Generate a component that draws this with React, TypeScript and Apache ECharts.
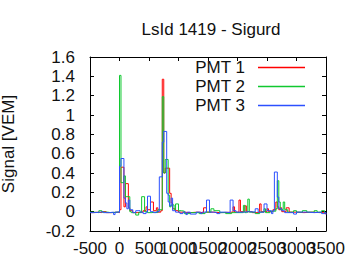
import React, { useEffect, useRef } from "react";
import * as echarts from "echarts";

const titleText = "LsId 1419 - Sigurd";
const yAxisName = "Signal [VEM]";
const seriesNames = ["PMT 1", "PMT 2", "PMT 3"];
const seriesColors = ["#ff0000", "#10c830", "#2c50ff"];
const xTickLabels = [-500, 0, 500, 1000, 1500, 2000, 2500, 3000, 3500];

// [time (ns), signal (VEM)] step breakpoints
const pmt1: [number, number][] = [
  [-500, -0.01], [-450, -0.005], [-350, -0.01], [-300, 0], [-225, -0.01], [-125, -0.005], [-25, -0.01],
  [0, 0.02], [25, 0.46], [75, 0.05], [100, 0.29], [150, 0.04], [175, 0.01], [225, -0.01], [300, -0.005],
  [400, 0.01], [450, 0.05], [475, 0.02], [525, 0.1], [575, 0.01], [625, 0.04], [650, -0.005], [700, 0.01],
  [725, 1.37], [750, 0.4], [775, 0.45], [850, 0.19], [875, 0.09], [900, 0.03], [950, 0.01], [1000, -0.005],
  [1100, -0.01], [1200, -0.005], [1325, -0.01], [1425, 0.04], [1475, -0.005], [1600, -0.01], [1700, -0.005],
  [1925, 0.05], [1950, -0.005], [2025, 0.12], [2050, 0], [2125, 0.06], [2150, 0], [2250, -0.01],
  [2375, 0.08], [2400, 0], [2500, 0.03], [2525, 0], [2600, 0.02], [2650, 0.1], [2675, 0.05], [2700, 0.02],
  [2725, 0.04], [2750, 0.0], [2825, 0.04], [2875, -0.005], [3000, -0.01], [3125, -0.005], [3275, -0.01],
  [3400, -0.005], [3475, -0.02], [3500, -0.02],
];

const pmt2: [number, number][] = [
  [-500, -0.005], [-425, -0.01], [-350, 0.01], [-300, -0.005], [-200, -0.01], [-150, -0.005], [-25, 0],
  [0, 1.41], [25, 0.3], [75, 0.37], [100, 0.155], [175, 0.0], [200, -0.01], [250, -0.005], [275, -0.035],
  [325, -0.01], [375, 0.155], [425, 0.0], [475, -0.01], [550, -0.005], [600, -0.01], [650, 0.02],
  [725, 1.19], [750, 0.4], [775, 0.54], [825, 0.17], [850, 0.05], [875, 0.07], [925, 0.02], [950, 0.08],
  [1000, 0.01], [1050, 0.005], [1100, -0.02], [1200, -0.01], [1350, -0.02], [1450, -0.005], [1550, 0.03],
  [1600, 0.01], [1700, -0.01], [1800, -0.02], [1900, -0.01], [2100, 0.065], [2125, -0.01], [2150, -0.005],
  [2175, 0.13], [2200, -0.005], [2300, -0.02], [2375, -0.005], [2450, 0.03], [2475, -0.01], [2550, 0.005],
  [2650, 0.03], [2675, 0.32], [2700, 0.1], [2725, 0.02], [2775, 0.1], [2800, 0.02], [2850, -0.005],
  [2950, 0.01], [3000, -0.005], [3100, 0.01], [3175, -0.005], [3300, 0.01], [3350, -0.005], [3425, 0.01],
  [3475, -0.01], [3500, -0.01],
];

const pmt3: [number, number][] = [
  [-500, -0.01], [-425, -0.005], [-325, 0], [-275, -0.01], [-175, -0.005], [-100, -0.03], [-75, -0.005],
  [0, 0.47], [25, 0.55], [75, 0.14], [100, 0.09], [125, 0.03], [150, 0.12], [175, 0.02], [225, -0.01],
  [275, 0.01], [350, -0.005], [400, -0.02], [450, -0.005], [475, 0.16], [525, 0.0], [575, -0.01],
  [625, 0.0], [675, 0.36], [725, 0.72], [750, 0.83], [800, 0.19], [825, 0.1], [850, 0.06], [875, 0.14],
  [900, 0.01], [950, -0.005], [1025, -0.02], [1075, -0.005], [1125, -0.03], [1150, -0.005], [1200, -0.025],
  [1300, -0.005], [1375, -0.02], [1400, -0.005], [1475, 0.12], [1525, -0.005], [1600, -0.01], [1650, -0.02],
  [1700, -0.005], [1800, -0.01], [1875, 0.12], [1925, 0.01], [1975, -0.005], [2100, 0.0], [2200, -0.005],
  [2300, 0.03], [2350, -0.005], [2450, 0.08], [2500, 0.01], [2575, -0.02], [2600, 0.01], [2625, 0.41],
  [2675, 0.15], [2700, 0.03], [2750, 0.01], [2800, -0.01], [2900, -0.01], [2950, -0.025], [3000, -0.005],
  [3200, -0.01], [3300, -0.005], [3425, -0.02], [3475, -0.01], [3500, -0.03],
];

const xMin = -500, xMax = 3500, xStep = 500;
const yMin = -0.2, yMax = 1.6, yStep = 0.2;

const FONT = "Liberation Sans";
const FS = 17;

export default function App() {
  const ref = useRef<HTMLDivElement>(null);
  useEffect(() => {
    if (!ref.current) return;
    const chart = echarts.init(ref.current, undefined, { renderer: "svg" });
    const allData = [pmt1, pmt2, pmt3];
    const axisCommon = {
      axisLine: { show: true, onZero: false, lineStyle: { color: "#000", width: 1 } },
      axisTick: { show: true, inside: true, length: 4, lineStyle: { color: "#000" } },
      splitLine: { show: false },
    };
    chart.setOption({
      animation: false,
      backgroundColor: "#fff",
      title: {
        text: titleText,
        left: 206,
        top: 16,
        textAlign: "center",
        textStyle: { fontFamily: FONT, fontSize: FS, fontWeight: "normal", color: "#111" },
      },
      legend: {
        orient: "vertical",
        align: "right",
        right: 55,
        top: 58,
        padding: 0,
        itemWidth: 47,
        itemHeight: 1.5,
        itemGap: 0,
        icon: "rect",
        data: seriesNames,
        textStyle: { fontFamily: FONT, fontSize: FS, color: "#111", lineHeight: 19, padding: [0, 8, 0, 0] },
      },
      grid: { left: 90, right: 34, top: 57, bottom: 39, containLabel: false, outerBoundsMode: "none" },
      xAxis: [
        {
          type: "value",
          min: xMin,
          max: xMax,
          interval: xStep,
          position: "bottom",
          ...axisCommon,
          axisLabel: { show: false },
        },
        {
          type: "value",
          min: xMin,
          max: xMax,
          interval: xStep,
          position: "top",
          ...axisCommon,
          axisLabel: { show: false },
        },
      ],
      yAxis: [
        {
          type: "value",
          min: yMin,
          max: yMax,
          interval: yStep,
          position: "left",
          ...axisCommon,
          name: yAxisName,
          nameLocation: "middle",
          nameGap: 73,
          nameRotate: 90,
          nameTextStyle: { fontFamily: FONT, fontSize: FS, color: "#111" },
          axisLabel: {
            color: "#111",
            fontFamily: FONT,
            fontSize: FS,
            margin: 15,
            showMinLabel: true,
            showMaxLabel: true,
            formatter: (v: number) => String(parseFloat(v.toFixed(1))),
          },
        },
        {
          type: "value",
          min: yMin,
          max: yMax,
          interval: yStep,
          position: "right",
          ...axisCommon,
          axisLabel: { show: false },
        },
      ],
      series: allData.map((d, i) => ({
        name: seriesNames[i],
        type: "line",
        step: "end",
        data: d,
        xAxisIndex: 0,
        yAxisIndex: 0,
        showSymbol: false,
        symbol: "none",
        color: seriesColors[i],
        lineStyle: { width: 1, color: seriesColors[i] },
        clip: true,
      })),
    });
    const yBase = chart.convertToPixel({ yAxisIndex: 0 }, yMin) as number;
    chart.setOption({
      graphic: xTickLabels.map((v) => ({
        type: "text",
        x: chart.convertToPixel({ xAxisIndex: 0 }, v) as number,
        y: yBase + 9,
        style: {
          text: String(v),
          align: "center",
          verticalAlign: "top",
          fontFamily: FONT,
          fontSize: FS,
          fill: "#111",
        },
      })),
    });
    return () => chart.dispose();
  }, []);
  return (
    <div
      ref={ref}
      style={{ position: "absolute", left: 0, top: 0, width: 360, height: 270, background: "#fff" }}
    />
  );
}
